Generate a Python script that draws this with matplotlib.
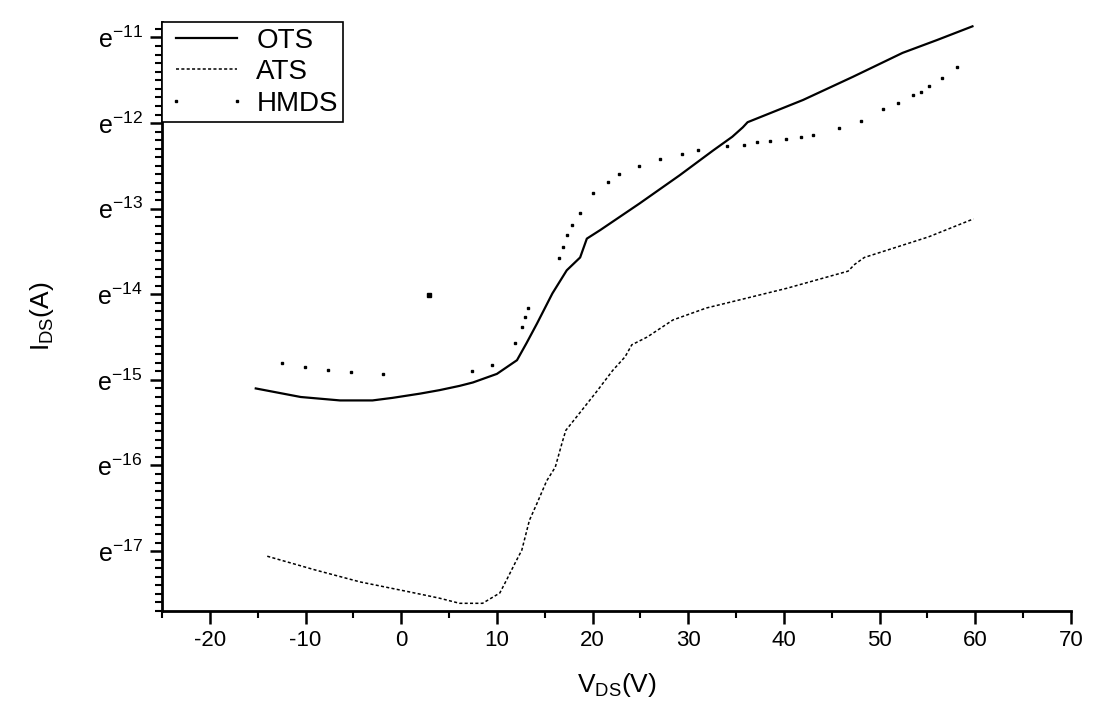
import numpy as np
import matplotlib.pyplot as plt
from matplotlib.ticker import MultipleLocator, FixedLocator

plt.rcParams['font.family'] = ['Liberation Sans', 'DejaVu Sans']
plt.rcParams['mathtext.fontset'] = 'custom'
plt.rcParams['mathtext.rm'] = 'Liberation Sans'
plt.rcParams['mathtext.default'] = 'regular'
plt.rcParams['axes.unicode_minus'] = False

# V_DS (V) and log current exponent
ots_v = [-15.2, -10.5, -6.4, -3.0, -0.9, 2.0, 4.0, 6.1, 7.5, 10.0, 12.1, 13.1, 14.2,
         15.8, 17.3, 18.7, 19.4, 20.8, 24.9, 29.1, 32.6, 34.6, 35.7, 36.2, 42.0,
         47.2, 52.4, 56.0, 59.7]
ots_i = [-15.10, -15.20, -15.24, -15.24, -15.21, -15.16, -15.12, -15.07, -15.03,
         -14.93, -14.77, -14.57, -14.34, -13.99, -13.72, -13.57, -13.35, -13.25,
         -12.94, -12.61, -12.32, -12.16, -12.05, -11.99, -11.73, -11.46, -11.18,
         -11.03, -10.87]

ats_v = [-14.0, -9.0, -4.3, 1.0, 4.0, 6.1, 8.5, 10.3, 11.0, 11.9, 12.6, 13.4, 14.2,
         15.2, 16.1, 16.8, 17.2, 18.7, 20.4, 22.1, 23.4, 24.1, 25.7, 28.4, 31.9,
         35.2, 40.3, 46.7, 47.4, 48.4, 55.1, 59.8]
ats_i = [-17.06, -17.22, -17.36, -17.48, -17.55, -17.61, -17.61, -17.49, -17.34,
         -17.14, -16.99, -16.64, -16.44, -16.18, -16.02, -15.74, -15.59, -15.38,
         -15.14, -14.89, -14.73, -14.59, -14.50, -14.30, -14.16, -14.07, -13.93,
         -13.73, -13.65, -13.57, -13.33, -13.12]

hmds_v = [-12.5, -10.1, -7.7, -5.2, -1.9, 7.4, 9.5, 11.9, 12.6, 12.9, 13.3, 16.5,
          16.9, 17.3, 17.9, 18.7, 20.0, 21.6, 22.8, 24.9, 27.0, 29.3, 31.0, 34.1,
          35.8, 37.2, 38.5, 40.2, 41.8, 43.0, 45.8, 48.0, 50.3, 51.9, 53.5, 54.3,
          55.2, 56.5, 58.1]
hmds_i = [-14.80, -14.85, -14.89, -14.91, -14.93, -14.90, -14.83, -14.57, -14.38,
          -14.26, -14.16, -13.58, -13.45, -13.31, -13.19, -13.05, -12.82, -12.69,
          -12.60, -12.50, -12.42, -12.36, -12.32, -12.27, -12.26, -12.22, -12.21,
          -12.19, -12.16, -12.14, -12.06, -11.98, -11.84, -11.77, -11.67, -11.64,
          -11.57, -11.47, -11.35]
stray_v = [2.9]
stray_i = [-14.01]

y_ticks = [-11, -12, -13, -14, -15, -16, -17]
y_labels = ['e$^{%d}$' % t for t in y_ticks]

fig = plt.figure(figsize=(10.96, 7.09), dpi=100)
ax = fig.add_axes([0.1478, 0.1382, 0.8294, 0.8307])

ax.plot(ots_v, ots_i, color='black', lw=1.6, label='OTS')
ax.plot(ats_v, ats_i, color='black', lw=1.1, ls=(0, (2.0, 1.5)), label='ATS')
ax.plot(hmds_v, hmds_i, color='black', ls='none', marker='s', ms=1.6,
        label='HMDS')
ax.plot(stray_v, stray_i, color='black', ls='none', marker='s', ms=2.4)

ax.set_xlim(-25, 70)
ax.set_ylim(-17.70, -10.82)
ax.xaxis.set_major_locator(MultipleLocator(10))
ax.xaxis.set_minor_locator(MultipleLocator(5))
ax.yaxis.set_major_locator(FixedLocator(y_ticks))
ax.set_yticklabels(y_labels)
ax.yaxis.set_minor_locator(MultipleLocator(0.1))

for s in ['top', 'right']:
    ax.spines[s].set_visible(False)
for s in ['left', 'bottom']:
    ax.spines[s].set_linewidth(2.0)

ax.tick_params(which='major', direction='out', length=9, width=1.8,
               labelsize=16, pad=5)
ax.tick_params(which='minor', direction='out', length=5, width=1.5)
ax.tick_params(axis='y', labelsize=18)

ax.set_xlabel('V$_{DS}$(V)', fontsize=19, labelpad=14)
ax.set_ylabel('I$_{DS}$(A)', fontsize=19, labelpad=30)

leg = ax.legend(loc='upper left', bbox_to_anchor=(0.0, 1.0), borderaxespad=0,
                fontsize=20, frameon=True, fancybox=False, edgecolor='black',
                framealpha=1, handlelength=2.8, labelspacing=0.2,
                numpoints=2, borderpad=0.2, handletextpad=0.4)
leg.get_frame().set_linewidth(1.2)

fig.savefig('out.png', dpi=100)
